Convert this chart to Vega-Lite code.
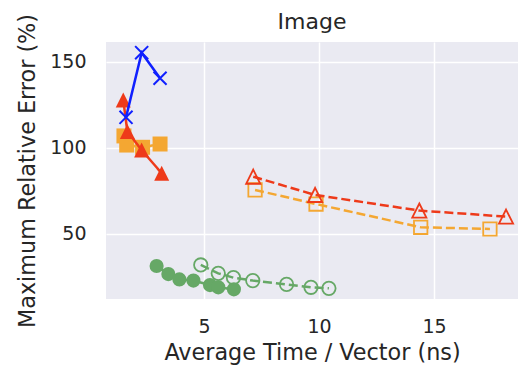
{
  "$schema": "https://vega.github.io/schema/vega-lite/v6.json",
  "autosize": "none",
  "width": 412,
  "height": 257,
  "padding": {"left": 106, "top": 42, "right": 0, "bottom": 68},
  "background": "white",
  "title": {"text": "Image", "fontSize": 22, "font": "DejaVu Sans", "fontWeight": "normal", "color": "#262626", "offset": -20, "frame": "group"},
  "config": {
    "view": {"fill": "#eaeaf2", "stroke": null},
    "font": "DejaVu Sans",
    "axis": {"grid": true, "gridColor": "white", "gridWidth": 1.5, "domain": false, "ticks": false, "labelFontSize": 19, "titleFontSize": 22.3, "labelColor": "#262626", "titleColor": "#262626", "titleFontWeight": "normal", "labelFont": "DejaVu Sans", "titleFont": "DejaVu Sans"}
  },
  "data": {"values": [
    {"s": "orangeF", "f": 1, "x": 1.52, "y": 107.0},
    {"s": "orangeF", "f": 1, "x": 1.64, "y": 101.7},
    {"s": "orangeF", "f": 1, "x": 2.33, "y": 100.4},
    {"s": "orangeF", "f": 1, "x": 3.09, "y": 102.3},
    {"s": "greenF", "f": 1, "x": 2.94, "y": 31.4},
    {"s": "greenF", "f": 1, "x": 3.45, "y": 26.7},
    {"s": "greenF", "f": 1, "x": 3.93, "y": 23.6},
    {"s": "greenF", "f": 1, "x": 4.54, "y": 22.9},
    {"s": "greenF", "f": 1, "x": 5.26, "y": 20.3},
    {"s": "greenF", "f": 1, "x": 5.62, "y": 19.0},
    {"s": "greenF", "f": 1, "x": 6.30, "y": 17.8},
    {"s": "greenO", "f": 0, "x": 4.86, "y": 32.0},
    {"s": "greenO", "f": 0, "x": 5.62, "y": 27.1},
    {"s": "greenO", "f": 0, "x": 6.28, "y": 24.6},
    {"s": "greenO", "f": 0, "x": 7.12, "y": 22.9},
    {"s": "greenO", "f": 0, "x": 8.59, "y": 20.7},
    {"s": "greenO", "f": 0, "x": 9.65, "y": 19.0},
    {"s": "greenO", "f": 0, "x": 10.43, "y": 18.4},
    {"s": "orangeO", "f": 0, "x": 7.22, "y": 75.6},
    {"s": "orangeO", "f": 0, "x": 9.87, "y": 67.4},
    {"s": "orangeO", "f": 0, "x": 14.42, "y": 53.9},
    {"s": "orangeO", "f": 0, "x": 17.43, "y": 52.9},
    {"s": "redF", "f": 1, "x": 1.49, "y": 127.9},
    {"s": "redF", "f": 1, "x": 1.67, "y": 109.5},
    {"s": "redF", "f": 1, "x": 2.29, "y": 98.8},
    {"s": "redF", "f": 1, "x": 3.16, "y": 85.3},
    {"s": "redO", "f": 0, "x": 7.14, "y": 83.3},
    {"s": "redO", "f": 0, "x": 9.83, "y": 72.7},
    {"s": "redO", "f": 0, "x": 14.36, "y": 63.6},
    {"s": "redO", "f": 0, "x": 18.13, "y": 60.1},
    {"s": "blue", "f": 1, "x": 1.61, "y": 117.8},
    {"s": "blue", "f": 1, "x": 2.29, "y": 155.4},
    {"s": "blue", "f": 1, "x": 3.09, "y": 140.5}
  ]},
  "encoding": {
    "x": {"field": "x", "type": "quantitative", "scale": {"domain": [0.74, 18.65], "nice": false, "zero": false}, "axis": {"values": [5, 10, 15], "title": "Average Time / Vector (ns)", "labelPadding": 18, "titlePadding": 5}},
    "y": {"field": "y", "type": "quantitative", "scale": {"domain": [12.2, 161.6], "nice": false, "zero": false}, "axis": {"values": [50, 100, 150], "title": "Maximum Relative Error (%)", "labelPadding": 20, "titlePadding": 10}},
    "color": {"field": "s", "type": "nominal", "legend": null, "scale": {"domain": ["greenF", "greenO", "orangeF", "orangeO", "redF", "redO", "blue"], "range": ["#66a866", "#66a866", "#f4a732", "#f4a732", "#ee3a1a", "#ee3a1a", "#1020ff"]}}
  },
  "layer": [
    {
      "transform": [{"filter": "indexof(['greenF','greenO','orangeF','orangeO'], datum.s) >= 0"}],
      "mark": {"type": "line", "strokeWidth": 2.5},
      "encoding": {
        "strokeDash": {"field": "s", "type": "nominal", "legend": null, "scale": {"domain": ["greenF", "greenO", "orangeF", "orangeO", "redF", "redO", "blue"], "range": [[1, 0], [9, 4], [1, 0], [9, 4], [1, 0], [9, 4], [1, 0]]}},
        "detail": {"field": "s"}
      }
    },
    {
      "transform": [{"filter": "datum.s == 'greenF'"}],
      "mark": {"type": "point", "filled": true, "opacity": 1, "size": 200, "shape": "circle"}
    },
    {
      "transform": [{"filter": "datum.s == 'orangeF'"}],
      "mark": {"type": "point", "filled": true, "opacity": 1, "size": 225, "shape": "square"}
    },
    {
      "transform": [{"filter": "datum.s == 'greenO'"}],
      "mark": {"type": "point", "filled": false, "opacity": 1, "size": 180, "strokeWidth": 1.8, "shape": "circle"}
    },
    {
      "transform": [{"filter": "datum.s == 'orangeO'"}],
      "mark": {"type": "point", "filled": false, "opacity": 1, "size": 180, "strokeWidth": 1.8, "shape": "square"}
    },
    {
      "transform": [{"filter": "datum.s == 'redF' || datum.s == 'redO'"}],
      "mark": {"type": "line", "strokeWidth": 2.5},
      "encoding": {
        "strokeDash": {"field": "s", "type": "nominal", "legend": null, "scale": {"domain": ["greenF", "greenO", "orangeF", "orangeO", "redF", "redO", "blue"], "range": [[1, 0], [9, 4], [1, 0], [9, 4], [1, 0], [9, 4], [1, 0]]}},
        "detail": {"field": "s"}
      }
    },
    {
      "transform": [{"filter": "datum.s == 'redF'"}],
      "mark": {"type": "point", "filled": true, "opacity": 1, "size": 225, "shape": "M0,-1L1,1L-1,1Z"}
    },
    {
      "transform": [{"filter": "datum.s == 'redO'"}],
      "mark": {"type": "point", "filled": false, "opacity": 1, "size": 200, "strokeWidth": 1.8, "shape": "M0,-1L1,1L-1,1Z"}
    },
    {
      "transform": [{"filter": "datum.s == 'blue'"}],
      "mark": {"type": "line", "strokeWidth": 2.5}
    },
    {
      "transform": [{"filter": "datum.s == 'blue'"}],
      "mark": {"type": "point", "filled": false, "opacity": 1, "size": 170, "strokeWidth": 2, "shape": "M-1,-1L1,1M1,-1L-1,1"}
    }
  ]
}
